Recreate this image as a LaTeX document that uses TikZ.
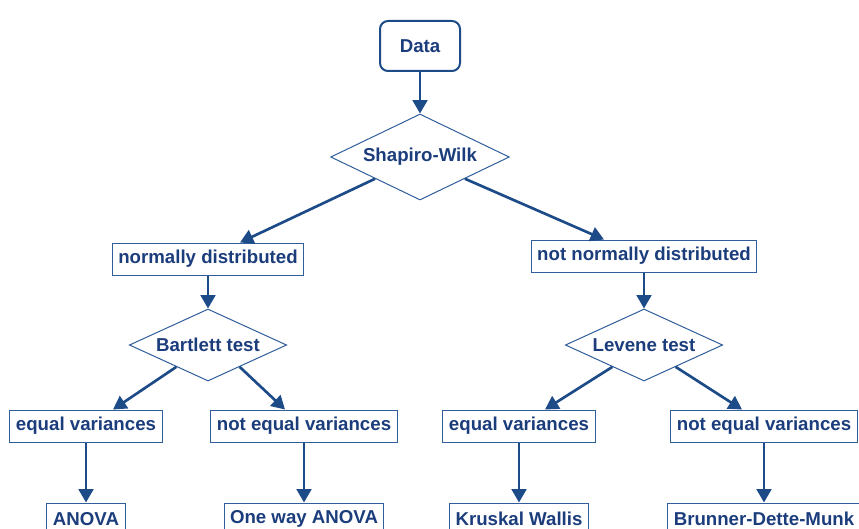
\documentclass[tikz,border=0pt]{standalone}
\usepackage{fontspec}
\setmainfont{Liberation Sans}
\usetikzlibrary{shapes.geometric,arrows.meta,calc}
\definecolor{boxblue}{HTML}{2F5E9B}
\definecolor{arrowblue}{HTML}{1D4B88}
\definecolor{textblue}{HTML}{1B3D7C}

\begin{document}
\begin{tikzpicture}[x=0.75pt,y=-0.75pt,
    every node/.style={text=textblue,font=\fontsize{14}{16}\selectfont\bfseries},
    result/.style={draw=boxblue,line width=0.75pt,inner xsep=4.5pt,minimum height=24pt},
    test/.style={diamond,aspect=2,draw=boxblue,line width=0.75pt,inner sep=0pt},
    arr/.style={draw=arrowblue,line width=2pt,-{Triangle[length=10pt,width=11pt]}}]
            \useasboundingbox (0,0) rectangle (859,528);
            \clip (0,0) rectangle (859,528);
            \node[draw=arrowblue,line width=1.5pt,rounded corners=6pt,minimum width=60pt,minimum height=37.5pt] (data) at (420,46) {Data};
            \node[test,minimum width=134pt,minimum height=64.5pt] (shapiro) at (420,157) {Shapiro-Wilk};
            \draw[arr] (data) -- (shapiro);
            \node[result] (normal) at (208,259) {normally distributed};
            \node[result] (notnormal) at (644,256) {not normally distributed};
            \draw[arr] (shapiro.south west) -- ($(normal.north)+(32,0)$);
            \draw[arr] (shapiro.south east) -- ($(notnormal.north)+(-40,0)$);
            \node[test,minimum width=118pt,minimum height=54pt] (bartlett) at (208,345) {Bartlett test};
            \node[test,minimum width=118pt,minimum height=54pt] (levene) at (644,345) {Levene test};
            \draw[arr] (normal) -- (bartlett);
            \draw[arr] (notnormal) -- (levene);
            \node[result] (eqL) at (86,426) {equal variances};
            \node[result] (neqL) at (304,426) {not equal variances};
            \node[result] (eqR) at (519,426) {equal variances};
            \node[result] (neqR) at (764,426) {not equal variances};
            \draw[arr] ($(bartlett.south)!0.4!(bartlett.west)$) -- ($(eqL.north)+(27,0)$);
            \draw[arr] ($(bartlett.south)!0.4!(bartlett.east)$) -- ($(neqL.north)+(-19,0)$);
            \draw[arr] ($(levene.south)!0.4!(levene.west)$) -- ($(eqR.north)+(26,0)$);
            \draw[arr] ($(levene.south)!0.4!(levene.east)$) -- ($(neqR.north)+(-22,0)$);
            \node[result] (anova) at (86,519) {ANOVA};
            \node[result] (oneway) at (304,519) {One way ANOVA};
            \node[result] (kruskal) at (519,519) {Kruskal Wallis};
            \node[result] (brunner) at (764,519) {Brunner-Dette-Munk};
            \draw[arr] (eqL) -- (anova);
            \draw[arr] (neqL) -- (oneway);
            \draw[arr] (eqR) -- (kruskal);
            \draw[arr] (neqR) -- (brunner);
\end{tikzpicture}
\end{document}
